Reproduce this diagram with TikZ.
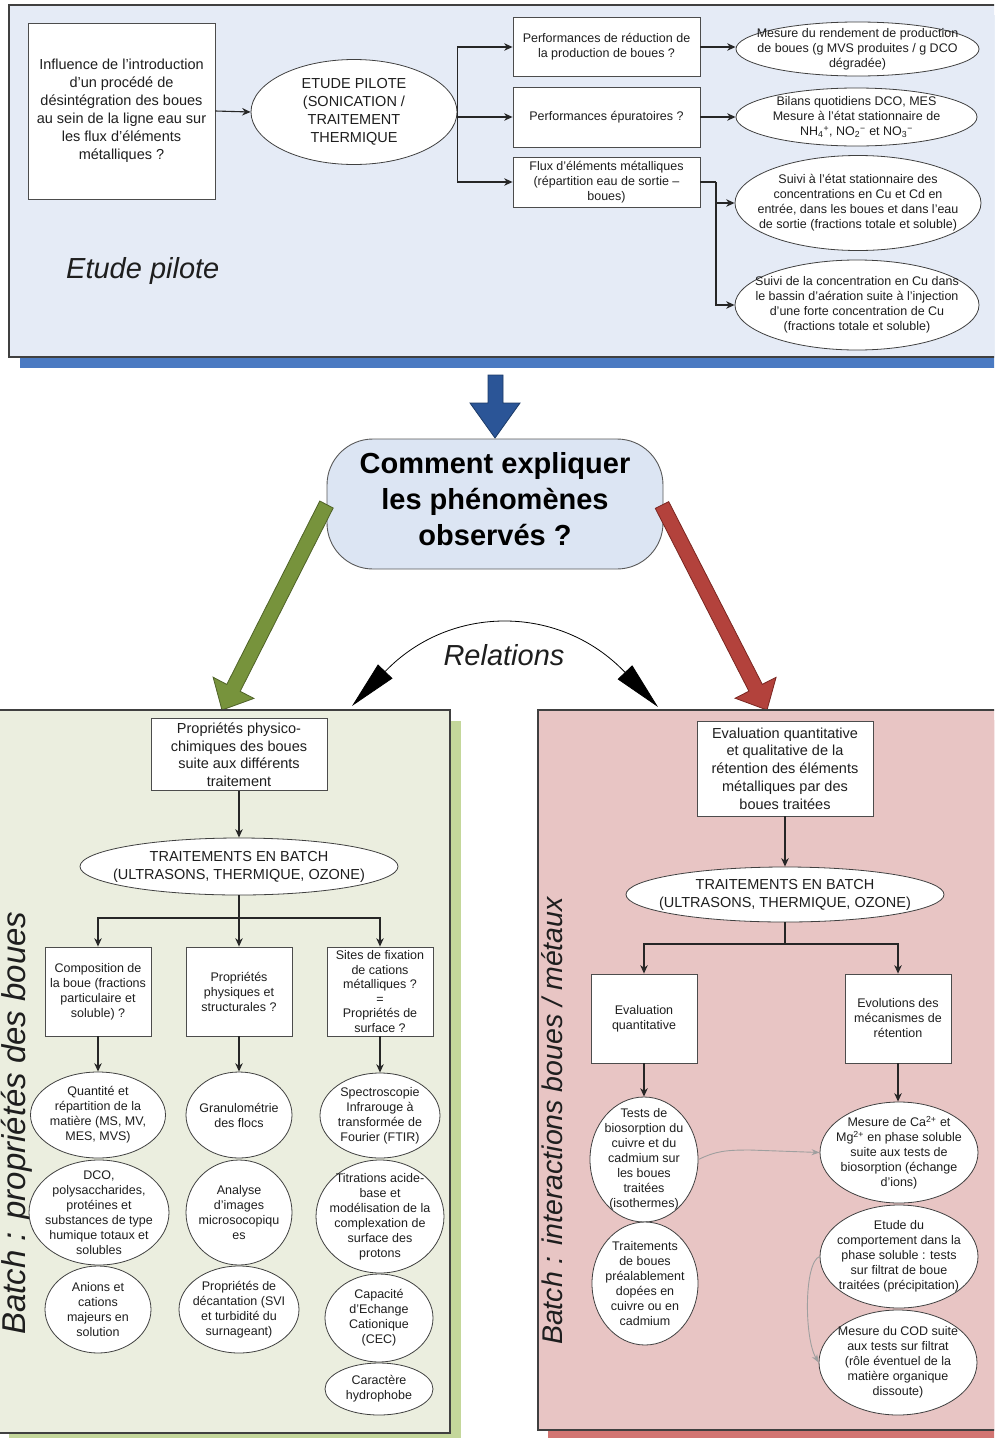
\documentclass[tikz,border=0pt]{standalone}
\usepackage{fontspec}
\setmainfont{Liberation Sans}
\usetikzlibrary{shapes.geometric,arrows.meta}

\definecolor{topfill}{HTML}{E5EBF6}
\definecolor{topshadow}{HTML}{4A7AC2}
\definecolor{qfill}{HTML}{DCE5F3}
\definecolor{grfill}{HTML}{77933C}
\definecolor{grline}{HTML}{4F6228}
\definecolor{rdfill}{HTML}{B3423C}
\definecolor{rdline}{HTML}{7A2621}
\definecolor{blfill}{HTML}{2B5597}
\definecolor{blline}{HTML}{1C3A66}
\definecolor{leftfill}{HTML}{EBEEDF}
\definecolor{leftshadow}{HTML}{C4D79B}
\definecolor{rightfill}{HTML}{E8C5C4}
\definecolor{rightshadow}{HTML}{D27572}
\definecolor{ink}{HTML}{1E1E1E}

\newcommand{\fsm}{\fontsize{12.5}{15}\selectfont}
\newcommand{\fmd}{\fontsize{14.5}{18}\selectfont}

\begin{document}
\begin{tikzpicture}[x=1pt,y=-1pt,
  panel/.style={draw=black!75,line width=1.1pt},
  bx/.style={rectangle,draw=black!70,line width=0.8pt,fill=white,align=center,
    inner sep=1pt,text=ink,font=\fsm},
  ell/.style={ellipse,draw=black!75,line width=0.8pt,fill=white,inner sep=0pt},
  lt/.style={align=center,font=\fsm,text=ink,inner sep=0pt},
  ltm/.style={align=center,font=\fmd,text=ink,inner sep=0pt},
  arr/.style={-{Stealth[length=8.5pt,width=7.5pt]},line width=1.1pt,draw=black!85},
  ln/.style={line width=1.1pt,draw=black!85},
  garr/.style={-{Stealth[length=8pt,width=6pt]},line width=0.9pt,draw=gray!75},
  bigital/.style={text=ink,inner sep=0pt}
]
\useasboundingbox (0,0) rectangle (994,1438);
\clip (0,0) rectangle (994,1438);

% ---------- upper panel: pilot study ----------
\fill[topshadow] (20,15) rectangle (1100,368);
\filldraw[panel,fill=topfill] (9,5) rectangle (1090,357);

\node[bx,font=\fmd,minimum width=187,minimum height=176] (q0) at (121.5,111)
  {Influence de l'introduction\\d'un procédé de\\désintégration des boues\\au sein de la ligne eau sur\\les flux d'éléments\\métalliques ?};
\node[ell,minimum width=206,minimum height=105,
  label={[ltm]center:{ETUDE PILOTE\\(SONICATION /\\TRAITEMENT\\THERMIQUE}}] (pil) at (354,112) {};

\node[bx,minimum width=187,minimum height=59] (q1) at (606.5,47)
  {Performances de réduction de\\la production de boues ?};
\node[bx,minimum width=187,minimum height=60] (q2) at (606.5,117)
  {Performances épuratoires ?};
\node[bx,minimum width=187,minimum height=50] (q3) at (606.5,182)
  {Flux d'éléments métalliques\\(répartition eau de sortie --\\boues)};

\node[ell,minimum width=243,minimum height=54,
  label={[lt]center:{Mesure du rendement de production\\de boues (g MVS produites / g DCO\\dégradée)}}] (m1) at (857.5,49) {};
\node[ell,minimum width=241,minimum height=58,
  label={[lt]center:{Bilans quotidiens DCO, MES\\Mesure à l'état stationnaire de\\NH\textsubscript{4}\textsuperscript{+}, NO\textsubscript{2}\textsuperscript{−} et NO\textsubscript{3}\textsuperscript{−}}}] (m2) at (856.5,117) {};
\node[ell,minimum width=246,minimum height=95,
  label={[lt]center:{Suivi à l'état stationnaire des\\concentrations en Cu et Cd en\\entrée, dans les boues et dans l'eau\\de sortie (fractions totale et soluble)}}] (m3) at (858,203) {};
\node[ell,minimum width=244,minimum height=90,
  label={[lt]center:{Suivi de la concentration en Cu dans\\le bassin d'aération suite à l'injection\\d'une forte concentration de Cu\\(fractions totale et soluble)}}] (m4) at (857,305) {};

\draw[arr] (q0.east) -- (pil.west);
\draw[arr] (pil.east) |- (q1.west);
\draw[arr] (pil.east) |- (q2.west);
\draw[arr] (pil.east) |- (q3.west);
\draw[arr] (q1.east) -- (q1.east -| m1.west);
\draw[arr] (q2.east) -- (m2.west);
\coordinate (j3) at (716,182);
\draw[ln] (q3.east) -- (j3);
\draw[arr] (j3) |- (m3.west);
\draw[arr] (j3) |- (m4.west);

\node[bigital,font=\fontsize{29}{29}\selectfont\itshape,anchor=base west] (tp) at (66,278) {Etude pilote};

% ---------- central question ----------
\filldraw[fill=blfill,draw=blline,line width=0.8pt]
  (488,375) -- (503,375) -- (503,403) -- (520,403) -- (495,438) -- (470,403) -- (488,403) -- cycle;

\node[rectangle,rounded corners=46pt,draw=black!65,line width=0.9pt,fill=qfill,
  minimum width=336,minimum height=130] (cq) at (495,504) {};
\node[align=center,text=black,inner sep=0pt,
  font=\fontsize{29}{36}\selectfont\bfseries] (cqt) at (495,499)
  {Comment expliquer\\les phénomènes\\observés ?};

\filldraw[fill=grfill,draw=grline,line width=0.8pt]
  (319.8,501) -- (333.2,508) -- (240.2,691.3) -- (253.9,698.4) -- (222,710)
  -- (213.1,677.2) -- (226.8,684.4) -- cycle;
\filldraw[fill=rdfill,draw=rdline,line width=0.8pt]
  (655.3,508.4) -- (668.7,501.6) -- (762.3,684.3) -- (776.1,677.3) -- (767,710)
  -- (735.1,698.2) -- (748.9,691.2) -- cycle;

\node[bigital,font=\fontsize{29}{29}\selectfont\itshape,anchor=base] (rel) at (504,665) {Relations};
\coordinate (rl) at (352,706);
\coordinate (rr) at (658,707);
\draw[{Triangle[length=48pt,width=20pt]}-{Triangle[length=48pt,width=20pt]},line width=0.8pt,black]
  (rl) .. controls (450,604) and (560,604) .. (rr);

% ---------- lower left panel: sludge properties ----------
\fill[leftshadow] (9,721) rectangle (461,1444);
\filldraw[panel,fill=leftfill] (-3,710) rectangle (450,1433);

\node[bigital,font=\fontsize{33}{33}\selectfont\itshape,rotate=90,anchor=base] (lv) at (25,1123)
  {Batch : propriétés des boues};

\node[bx,font=\fontsize{14.5}{17.5}\selectfont,minimum width=176,minimum height=72] (lb) at (239,754.5)
  {Propriétés physico-\\chimiques des boues\\suite aux différents\\traitement};
\node[ell,minimum width=318,minimum height=57,
  label={[ltm]center:{TRAITEMENTS EN BATCH\\(ULTRASONS, THERMIQUE, OZONE)}}] (lel) at (239,866.5) {};

\node[bx,minimum width=106,minimum height=89] (la) at (98,991.5)
  {Composition de\\la boue (fractions\\particulaire et\\soluble) ?};
\node[bx,minimum width=106,minimum height=89] (lbb) at (239,991.5)
  {Propriétés\\physiques et\\structurales ?};
\node[bx,font=\fontsize{12.5}{14.6}\selectfont,minimum width=106,minimum height=89,inner sep=0pt] (lc) at (380,991.5)
  {Sites de fixation\\de cations\\métalliques ?\\=\\Propriétés de\\surface ?};

\node[ell,minimum width=135,minimum height=86,
  label={[lt]center:{Quantité et\\répartition de la\\matière (MS, MV,\\MES, MVS)}}] (la1) at (98,1115) {};
\node[ell,minimum width=140,minimum height=105,
  label={[lt]center:{DCO,\\polysaccharides,\\protéines et\\substances de type\\humique totaux et\\solubles}}] (la2) at (99,1212.5) {};
\node[ell,minimum width=106,minimum height=87,
  label={[lt]center:{Anions et\\cations\\majeurs en\\solution}}] (la3) at (98,1309.5) {};

\node[ell,minimum width=106,minimum height=86,
  label={[lt]center:{Granulométrie\\des flocs}}] (lb1) at (239,1115) {};
\node[ell,minimum width=106,minimum height=105,
  label={[lt]center:{Analyse\\d'images\\microsocopiqu\\es}}] (lb2) at (239,1212.5) {};
\node[ell,minimum width=120,minimum height=87,
  label={[lt]center:{Propriétés de\\décantation (SVI\\et turbidité du\\surnageant)}}] (lb3) at (239,1309.5) {};

\node[ell,minimum width=120,minimum height=85,
  label={[lt]center:{Spectroscopie\\Infrarouge à\\transformée de\\Fourier (FTIR)}}] (lc1) at (380,1115.5) {};
\node[ell,minimum width=128,minimum height=113,
  label={[lt]center:{Titrations acide-\\base et\\modélisation de la\\complexation de\\surface des\\protons}}] (lc2) at (380,1216.5) {};
\node[ell,minimum width=108,minimum height=88,
  label={[lt]center:{Capacité\\d'Echange\\Cationique\\(CEC)}}] (lc3) at (379,1318) {};
\node[ell,minimum width=108,minimum height=52,
  label={[lt]center:{Caractère\\hydrophobe}}] (lc4) at (379,1389) {};

\draw[arr] (lb.south) -- (lel.north);
\coordinate (lf) at (239,918);
\draw[ln] (lel.south) -- (lf);
\draw[arr] (lf) -| (la.north);
\draw[arr] (lf) -- (lbb.north);
\draw[arr] (lf) -| (lc.north);
\draw[arr] (la.south) -- (la1.north);
\draw[arr] (lbb.south) -- (lb1.north);
\draw[arr] (lc.south) -- (lc1.north);

% ---------- lower right panel: sludge / metal interactions ----------
\fill[rightshadow] (548,720) rectangle (1100,1444);
\filldraw[panel,fill=rightfill] (538,710) rectangle (1090,1430);

\node[bigital,font=\fontsize{28.5}{28.5}\selectfont\itshape,rotate=90,anchor=base] (rv) at (562,1121)
  {Batch : interactions boues / métaux};

\node[bx,font=\fontsize{14.5}{17.7}\selectfont,minimum width=176,minimum height=95] (rb) at (785,768.5)
  {Evaluation quantitative\\et qualitative de la\\rétention des éléments\\métalliques par des\\boues traitées};
\node[ell,minimum width=318,minimum height=55,
  label={[ltm]center:{TRAITEMENTS EN BATCH\\(ULTRASONS, THERMIQUE, OZONE)}}] (rel2) at (785,894.5) {};

\node[bx,minimum width=106,minimum height=89] (ra) at (644,1018.5)
  {Evaluation\\quantitative};
\node[bx,minimum width=106,minimum height=89] (rc) at (898,1018.5)
  {Evolutions des\\mécanismes de\\rétention};

\node[ell,minimum width=108,minimum height=125,
  label={[lt]center:{Tests de\\biosorption du\\cuivre et du\\cadmium sur\\les boues\\traitées\\(isothermes)}}] (ra1) at (644,1159.5) {};
\node[ell,minimum width=106,minimum height=123,
  label={[lt]center:{Traitements\\de boues\\préalablement\\dopées en\\cuivre ou en\\cadmium}}] (ra2) at (645,1283.5) {};

\node[ell,minimum width=158,minimum height=101,
  label={[lt]center:{Mesure de Ca\textsuperscript{2+} et\\Mg\textsuperscript{2+} en phase soluble\\suite aux tests de\\biosorption (échange\\d'ions)}}] (rc1) at (899,1152.5) {};
\node[ell,minimum width=158,minimum height=103,
  label={[lt]center:{Etude du\\comportement dans la\\phase soluble : tests\\sur filtrat de boue\\traitées (précipitation)}}] (rc2) at (899,1256.5) {};
\node[ell,minimum width=158,minimum height=105,
  label={[lt]center:{Mesure du COD suite\\aux tests sur filtrat\\(rôle éventuel de la\\matière organique\\dissoute)}}] (rc3) at (898,1362.5) {};

\draw[arr] (rb.south) -- (rel2.north);
\coordinate (rf) at (785,944);
\draw[ln] (rel2.south) -- (rf);
\draw[arr] (rf) -| (ra.north);
\draw[arr] (rf) -| (rc.north);
\draw[arr] (ra.south) -- (ra1.north);
\draw[arr] (rc.south) -- (rc.south |- rc1.north);

\draw[garr] (ra1.east) .. controls (716,1151) and (726,1150) .. (750,1150) -- (rc1.west);
\draw[garr] (rc2.west) .. controls (804,1262) and (804,1338) .. (rc3.west);

\end{tikzpicture}
\end{document}
